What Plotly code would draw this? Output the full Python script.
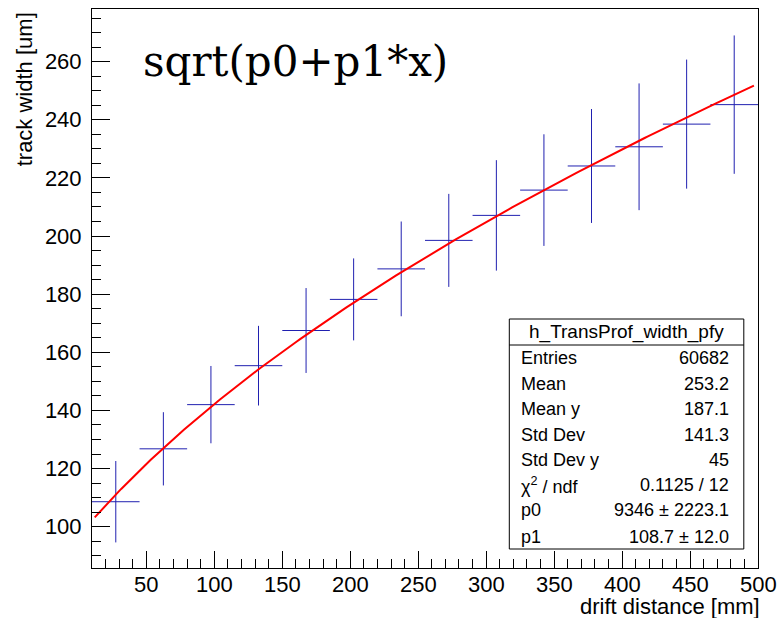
import numpy as np
import plotly.graph_objects as go

# ---- data ----
bin_centers = [27.5, 62.5, 97.5, 132.5, 167.5, 202.5, 237.5, 272.5, 307.5, 342.5, 377.5, 412.5, 447.5, 482.5]
bin_halfwidth = [17.5] * 14
mean_width = [108.6, 126.8, 142.0, 155.4, 167.5, 178.2, 188.7, 198.5, 207.1, 215.8, 224.1, 230.7, 238.5, 245.2]
err_width = [14.0, 12.6, 13.3, 13.7, 14.6, 14.1, 16.3, 16.0, 19.0, 19.2, 19.6, 21.8, 22.2, 23.8]

p0 = 9346.0
p1 = 108.7
fit_range = [12.0, 497.0]

x_tick_values = [50, 100, 150, 200, 250, 300, 350, 400, 450, 500]
x_tick_labels = ["50", "100", "150", "200", "250", "300", "350", "400", "450", "500"]

stats_labels = ["Entries", "Mean", "Mean y", "Std Dev", "Std Dev y", "χ<sup>2</sup> / ndf", "p0", "p1"]
stats_values = ["60682", "253.2", "187.1", "141.3", "45", "0.1125 / 12", "9346 ± 2223.1", "108.7 ± 12.0"]
stats_title = "h_TransProf_width_pfy"

x_range = [10, 500]
y_range = [85.8, 278.1]

# ---- layout geometry (pixels) ----
W, H = 781, 618
L, R, T, B = 91.7, 757.7, 9.0, 568.0


def px(xp):
    return (xp - L) / (R - L)


def py(yp):
    return (B - yp) / (B - T)


fig = go.Figure()

bar_color = "#2020b0"
fig.add_trace(go.Scatter(
    x=bin_centers, y=mean_width, mode="markers",
    marker=dict(size=1, color="rgba(0,0,0,0)"),
    error_x=dict(type="data", array=bin_halfwidth, symmetric=True, width=0, color=bar_color, thickness=1),
    error_y=dict(type="data", array=err_width, symmetric=True, width=0, color=bar_color, thickness=1),
    hoverinfo="skip", showlegend=False,
))

xf = np.linspace(fit_range[0], fit_range[1], 200)
yf = np.sqrt(p0 + p1 * xf)
fig.add_trace(go.Scatter(x=xf, y=yf, mode="lines", line=dict(color="#ff0000", width=2),
                         hoverinfo="skip", showlegend=False))

font = "Liberation Sans, Arial, Helvetica, sans-serif"

fig.update_layout(
    width=W, height=H,
    margin=dict(l=L, r=W - R, t=T, b=H - B, pad=0),
    paper_bgcolor="white", plot_bgcolor="white",
    font=dict(family=font, color="black"),
    showlegend=False,
    xaxis=dict(range=x_range, showgrid=False, zeroline=False,
               showline=True, linecolor="black", linewidth=1, mirror=True,
               ticks="inside", ticklen=17, tickwidth=1, tickcolor="black",
               dtick=50, tick0=0, showticklabels=False,
               minor=dict(ticks="inside", ticklen=9, dtick=10, tick0=0, tickcolor="black", tickwidth=1)),
    yaxis=dict(range=y_range, showgrid=False, zeroline=False,
               showline=True, linecolor="black", linewidth=1, mirror=True,
               ticks="inside", ticklen=18, tickwidth=1, tickcolor="black",
               dtick=20, tick0=0,
               minor=dict(ticks="inside", ticklen=9, dtick=5, tick0=0, tickcolor="black", tickwidth=1),
               tickfont=dict(size=22, family=font), ticklabelstandoff=5),
)

annotations = []
# x tick labels
for v, t in zip(x_tick_values, x_tick_labels):
    annotations.append(dict(text=t, xref="x", yref="paper", x=v, y=py(584), borderpad=0,
                            xanchor="center", yanchor="middle", showarrow=False,
                            font=dict(size=22, family=font)))
# axis titles
annotations.append(dict(text="drift distance [mm]", xref="paper", yref="paper",
                        x=1.0, xshift=3, y=py(606), xanchor="right", yanchor="middle", borderpad=0,
                        showarrow=False, font=dict(size=22, family=font)))
annotations.append(dict(text="track width [um]", xref="paper", yref="paper",
                        x=px(24), y=py(10), xanchor="center", yanchor="top", textangle=-90,
                        showarrow=False, font=dict(size=22, family=font)))
# function title
annotations.append(dict(text="sqrt(p0+p1*x)", xref="paper", yref="paper",
                        x=px(141), y=py(61), xanchor="left", yanchor="middle",
                        showarrow=False, font=dict(size=42, family="DejaVu Serif, serif")))

# stats box
bx0, bx1, by0, by1 = 509, 743.5, 319, 549
hdr = 345
shapes = [
    dict(type="rect", xref="paper", yref="paper", x0=px(bx0), x1=px(bx1), y0=py(by1), y1=py(by0),
         line=dict(color="black", width=1), fillcolor="white", layer="above"),
    dict(type="line", xref="paper", yref="paper", x0=px(bx0), x1=px(bx1), y0=py(hdr), y1=py(hdr),
         line=dict(color="black", width=1), layer="above"),
]
annotations.append(dict(text=stats_title, xref="paper", yref="paper",
                        x=px((bx0 + bx1) / 2), y=py(332), xanchor="center", yanchor="middle",
                        showarrow=False, font=dict(size=19, family=font)))
row_y = [358, 384, 409, 435, 460, 485, 510, 537]
for lab, val, ry in zip(stats_labels, stats_values, row_y):
    annotations.append(dict(text=lab, xref="paper", yref="paper", x=px(519), y=py(ry),
                            xanchor="left", yanchor="middle", showarrow=False,
                            font=dict(size=18, family=font)))
    annotations.append(dict(text=val, xref="paper", yref="paper", x=px(731), y=py(ry),
                            xanchor="right", yanchor="middle", showarrow=False,
                            font=dict(size=18, family=font)))

fig.update_layout(annotations=annotations, shapes=shapes)

fig.write_html("out.html")
